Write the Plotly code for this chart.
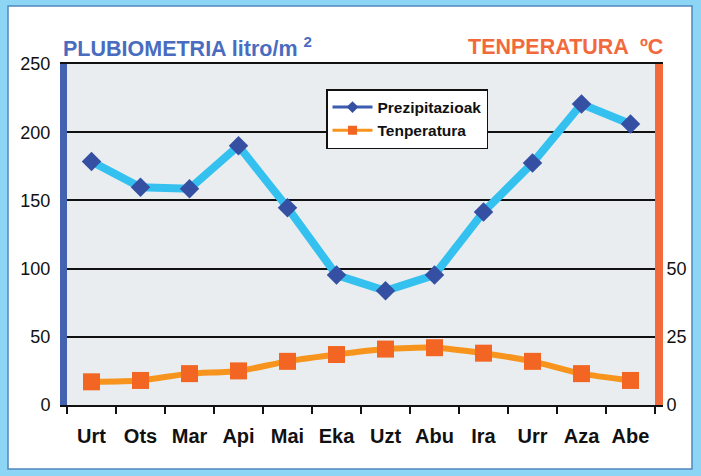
import plotly.graph_objects as go

months = ["Urt", "Ots", "Mar", "Api", "Mai", "Eka", "Uzt", "Abu", "Ira", "Urr", "Aza", "Abe"]
precip = [178.5, 159.6, 158.6, 190, 144.7, 95.3, 83.8, 95.3, 141.5, 177.4, 220.7, 206]
temp = [8.5, 9, 11.5, 12.5, 16, 18.5, 20.5, 21, 19, 16, 11.5, 9]
left_ticks = [0, 50, 100, 150, 200, 250]
right_ticks = [0, 25, 50]

BLUE_AX = "#4363b0"
ORANGE_AX = "#f26a3c"

fig = go.Figure()

fig.add_trace(go.Scatter(
    x=months, y=precip, mode="lines+markers", showlegend=False,
    line=dict(color="#35c1ef", width=8),
    marker=dict(symbol="diamond", size=15, color="#3550a3"),
    yaxis="y", cliponaxis=False,
))
fig.add_trace(go.Scatter(
    x=months, y=temp, mode="lines+markers", showlegend=False,
    line=dict(color="#f7941e", width=6, shape="spline", smoothing=0.6),
    marker=dict(symbol="square", size=17, color="#f26522"),
    yaxis="y2", cliponaxis=False,
))
fig.add_trace(go.Scatter(
    x=[None], y=[None], mode="lines+markers", name="Prezipitazioak",
    line=dict(color="#3d5cb0", width=3),
    marker=dict(symbol="diamond", size=9, color="#3550a3"),
))
fig.add_trace(go.Scatter(
    x=[None], y=[None], mode="lines+markers", name="Tenperatura",
    line=dict(color="#f7941e", width=3),
    marker=dict(symbol="square", size=9, color="#f26522"),
    yaxis="y2",
))

PL, PR, PT, PB = 67, 655, 64, 405
W, H = 701, 476
def px(x):
    return (x - PL) / (PR - PL)
def py(y):
    return (PB - y) / (PB - PT)

shapes = [
    dict(type="rect", xref="paper", yref="paper", x0=px(8), x1=px(692), y0=py(469), y1=py(6),
         fillcolor="white", line=dict(color="#4f87bd", width=1.5), layer="below"),
    dict(type="rect", xref="paper", yref="paper", x0=0, x1=1, y0=0, y1=1,
         fillcolor="#e9edf0", line=dict(width=0), layer="below"),
]

fig.update_layout(
    width=W, height=H,
    margin=dict(l=PL, r=W - PR, t=PT, b=H - PB, pad=0),
    paper_bgcolor="#8dd5f4",
    plot_bgcolor="rgba(0,0,0,0)",
    font=dict(family="Arial, Liberation Sans, sans-serif", color="#111111"),
    shapes=shapes,
    xaxis=dict(
        type="category", range=[-0.5, 11.5], tickson="boundaries",
        ticks="outside", ticklen=7, tickwidth=1.5, tickcolor="#111111",
        showline=True, linecolor="#111111", linewidth=2, mirror=True,
        showgrid=False, tickfont=dict(size=20, weight="bold", color="#111111"),
        ticklabelstandoff=12, fixedrange=True,
    ),
    yaxis=dict(
        range=[0, 250], tickvals=left_ticks, showgrid=True, gridcolor="#111111", gridwidth=1.5,
        showline=True, linecolor=BLUE_AX, linewidth=7, ticks="", zeroline=False,
        tickfont=dict(size=18, color="#111111"), ticklabelstandoff=6, fixedrange=True,
    ),
    yaxis2=dict(
        range=[0, 125], tickvals=right_ticks, overlaying="y", side="right",
        showgrid=False, showline=True, linecolor=ORANGE_AX, linewidth=8, ticks="",
        zeroline=False, tickfont=dict(size=18, color="#111111"), fixedrange=True,
    ),
    legend=dict(
        x=px(326), y=py(89), xanchor="left", yanchor="top",
        bgcolor="white", bordercolor="#111111", borderwidth=1.5,
        font=dict(size=15.5, color="#111111", weight="bold"),
        itemwidth=40,
    ),
    annotations=[
        dict(text="<b>PLUBIOMETRIA litro/m <sup>2</sup></b>", xref="paper", yref="paper",
             x=px(61), y=py(47), xanchor="left", yanchor="middle", showarrow=False,
             font=dict(size=21.5, color="#4a6cc0")),
        dict(text="<b>TENPERATURA  ºC</b>", xref="paper", yref="paper",
             x=px(665), y=py(47), xanchor="right", yanchor="middle", showarrow=False,
             font=dict(size=21.5, color=ORANGE_AX)),
    ],
)

fig.write_html("out.html", config={"displayModeBar": False},
               post_script="document.body.style.margin='0';document.body.style.padding='0';")
